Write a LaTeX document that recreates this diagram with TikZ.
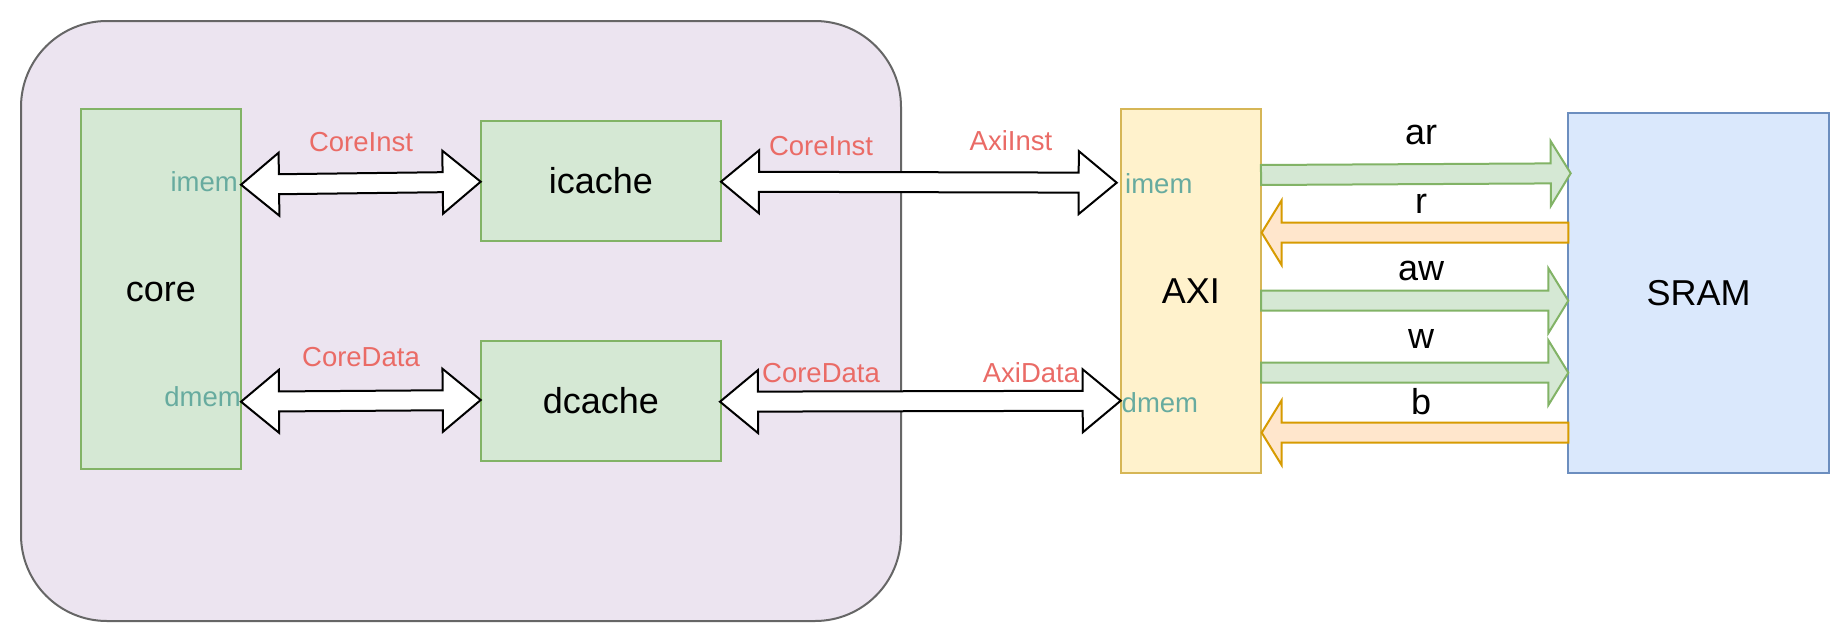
\documentclass[tikz,border=0pt]{standalone}
\usepackage{fontspec}
\setmainfont{Liberation Sans}
\usetikzlibrary{calc}
\definecolor{lav}{HTML}{ECE4F0}
\definecolor{lavline}{HTML}{666666}
\definecolor{gfill}{HTML}{D5E8D4}
\definecolor{gline}{HTML}{82B366}
\definecolor{yfill}{HTML}{FFF2CC}
\definecolor{yline}{HTML}{D6B656}
\definecolor{bfill}{HTML}{DAE8FC}
\definecolor{bline}{HTML}{6C8EBF}
\definecolor{ofill}{HTML}{FFE6CC}
\definecolor{oline}{HTML}{D79B00}
\definecolor{redtxt}{HTML}{EA6B66}
\definecolor{tealtxt}{HTML}{67AB9F}
\tikzset{
  tr/.style={shift={(\p1)},rotate=\n1},
  dblarrow/.style={draw=black, fill=white, line width=2pt, line join=miter, to path={
    let \p1=(\tikztostart),\p2=(\tikztotarget),
        \n1={atan2(\y2-\y1,\x2-\x1)},\n2={veclen(\x2-\x1,\y2-\y1)},
        \n3={\n2-38} in
    ([tr]0,0) -- ([tr]38,31.5) -- ([tr]38,10) -- ([tr]\n3,10) -- ([tr]\n3,31.5)
    -- ([tr]\n2,0) -- ([tr]\n3,-31.5) -- ([tr]\n3,-10) -- ([tr]38,-10)
    -- ([tr]38,-31.5) -- cycle}},
  sglarrow/.style={line width=2pt, line join=miter, to path={
    let \p1=(\tikztostart),\p2=(\tikztotarget),
        \n1={atan2(\y2-\y1,\x2-\x1)},\n2={veclen(\x2-\x1,\y2-\y1)},
        \n3={\n2-20} in
    ([tr]0,10) -- ([tr]\n3,10) -- ([tr]\n3,32.5) -- ([tr]\n2,0)
    -- ([tr]\n3,-32.5) -- ([tr]\n3,-10) -- ([tr]0,-10) -- cycle}},
  greenarrow/.style={sglarrow, draw=gline, fill=gfill},
  orangearrow/.style={sglarrow, draw=oline, fill=ofill},
  box/.style={line width=2pt, inner sep=0pt, outer sep=0pt, anchor=north west,
    font=\fontsize{36}{43}\selectfont, text height=26pt, text depth=0pt},
  gbox/.style={box, draw=gline, fill=gfill},
  ybox/.style={box, draw=yline, fill=yfill},
  bbox/.style={box, draw=bline, fill=bfill},
  redlab/.style={inner sep=0pt, anchor=base, text=redtxt, font=\fontsize{27.5}{33}\selectfont},
  portlab/.style={inner sep=0pt, text=tealtxt, font=\fontsize{27.5}{33}\selectfont},
  buslab/.style={inner sep=0pt, anchor=base, text=black, font=\fontsize{36}{43}\selectfont},
}
\begin{document}
\begin{tikzpicture}[x=1pt,y=-1pt]
\path[use as bounding box, fill=white] (0,0) rectangle (1844,629);

% enclosing block
\node[draw=lavline, fill=lav, line width=2pt, rounded corners=86pt, inner sep=0pt, outer sep=0pt,
  minimum width=880pt, minimum height=600pt, anchor=north west] (soc) at (21,21) {};

% boxes
\node[gbox, minimum width=160.3pt, minimum height=360pt] (core) at (80.7,108.7) {core};
\node[gbox, minimum width=240.3pt, minimum height=120pt] (icache) at (480.7,120.7) {icache};
\node[gbox, minimum width=240.3pt, minimum height=120pt] (dcache) at (480.7,340.7) {dcache};
\node[ybox, minimum width=140.3pt, minimum height=363.7pt] (axi) at (1120.7,109) {AXI};
\node[bbox, minimum width=260.7pt, minimum height=360pt] (sram) at (1568.3,112.7) {SRAM};

% double arrows
\draw[dblarrow] ($(core.east |- icache.west)+(0,4)$) to ($(icache.west)+(0,1)$);
\draw[dblarrow] ($(core.east |- dcache.west)+(0,1)$) to ($(dcache.west)+(0,-0.7)$);
\draw[dblarrow] ($(icache.east)+(0,1)$) to ($(axi.west |- icache.east)+(-4,2)$);
\draw[dblarrow] ($(dcache.east)+(-1,1)$) to (axi.west |- dcache.east);

% bus arrows
\draw[greenarrow] ($(axi.north east)+(0,66)$) to ($(sram.north west)+(2.4,60.6)$);
\draw[orangearrow] ($(sram.north west)+(0,120)$) to ($(axi.north east)+(0.7,123.7)$);
\draw[greenarrow] ($(axi.north east)+(0,191.7)$) to ($(sram.north west)+(0,188)$);
\draw[greenarrow] ($(axi.north east)+(0,263.7)$) to ($(sram.north west)+(0,260)$);
\draw[orangearrow] ($(sram.north west)+(0,320)$) to ($(axi.north east)+(0.7,323.7)$);

% connector labels
\node[redlab] (l1) at (361,151.7) {CoreInst};
\node[redlab] (l2) at (821,155) {CoreInst};
\node[redlab] (l3) at (1011,150.7) {AxiInst};
\node[redlab] (l4) at (361,366.7) {CoreData};
\node[redlab] (l5) at (821,382.7) {CoreData};
\node[redlab] (l6) at (1031,382.7) {AxiData};

% port labels
\node[portlab, anchor=base east] (p1) at (238,191.7) {imem};
\node[portlab, anchor=base east] (p2) at (241,406.7) {dmem};
\node[portlab, anchor=base west] (p3) at (1125,193.3) {imem};
\node[portlab, anchor=base west] (p4) at (1121.5,412.7) {dmem};

% bus labels
\node[buslab] (b1) at (1421,144.3) {ar};
\node[buslab] (b2) at (1421,213.3) {r};
\node[buslab] (b3) at (1421,280) {aw};
\node[buslab] (b4) at (1421,348.3) {w};
\node[buslab] (b5) at (1421,414) {b};
\end{tikzpicture}
\end{document}
